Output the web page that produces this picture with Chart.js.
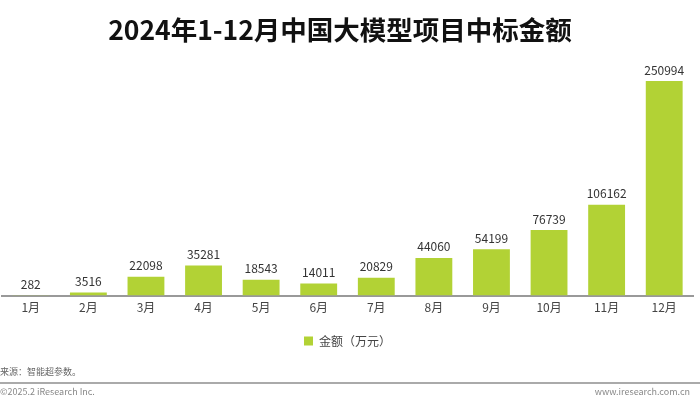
<!DOCTYPE html>
<html>
<head>
<meta charset="utf-8">
<script src="https://cdn.jsdelivr.net/npm/chart.js@4"></script>
<style>
  body { margin: 0; background: #fff; font-family: "Noto Sans CJK SC", sans-serif; }
  #wrap { position: relative; width: 700px; height: 397px; overflow: hidden; }
  #title { position: absolute; top: 9px; left: -10px; width: 700px; text-align: center;
    font-size: 26.5px; font-weight: bold; color: #111; }
  #chart-box { position: absolute; top: 0; left: 0; width: 700px; height: 397px; }
  .small { position: absolute; font-size: 9px; color: #666; }
  #rule { position: absolute; left: 0; top: 382px; width: 700px; height: 0; border-top: 2px solid #aaa; }
</style>
</head>
<body>
<div id="wrap">
  <div id="chart-box"><canvas id="myChart"></canvas></div>
  <div id="title">2024年1-12月中国大模型项目中标金额</div>
  <div class="small" style="left:0; top:365px;">来源：智能超参数。</div>
  <div id="rule"></div>
  <div class="small" style="left:0; top:385px; color:#888;">©2025.2 iResearch Inc.</div>
  <div class="small" style="right:10px; top:385px; color:#888;">www.iresearch.com.cn</div>
</div>
<script>
const months = ['1月', '2月', '3月', '4月', '5月', '6月', '7月', '8月', '9月', '10月', '11月', '12月'];
const amounts = [282, 3516, 22098, 35281, 18543, 14011, 20829, 44060, 54199, 76739, 106162, 250994];
const seriesName = '金额（万元）';

// draws the value above each bar
const valueLabels = {
  id: 'valueLabels',
  afterDatasetsDraw(chart) {
    const ctx = chart.ctx;
    const meta = chart.getDatasetMeta(0);
    ctx.save();
    ctx.font = '12px "Noto Sans CJK SC", sans-serif';
    ctx.fillStyle = '#333';
    ctx.textAlign = 'center';
    ctx.textBaseline = 'bottom';
    meta.data.forEach((bar, i) => {
      ctx.fillText(String(amounts[i]), bar.x, bar.y - 5);
    });
    ctx.restore();
  }
};

const ctx = document.getElementById('myChart').getContext('2d');
new Chart(ctx, {
  type: 'bar',
  data: {
    labels: months,
    datasets: [{
      label: seriesName,
      data: amounts,
      backgroundColor: '#b2d235',
      barPercentage: 0.64,
      categoryPercentage: 1
    }]
  },
  options: {
    responsive: true,
    maintainAspectRatio: false,
    animation: false,
    layout: { padding: { top: 60, left: 2, right: 7, bottom: 40 } },
    scales: {
      x: {
        grid: { display: false, drawTicks: false },
        border: { color: '#999', width: 2 },
        ticks: { color: '#444', font: { size: 12, family: '"Noto Sans CJK SC"' }, padding: 5 }
      },
      y: {
        display: false,
        min: 0,
        max: 275500
      }
    },
    plugins: {
      legend: {
        position: 'bottom',
        labels: {
          boxWidth: 9, boxHeight: 9, color: '#444',
          font: { size: 12, family: '"Noto Sans CJK SC"' }, padding: 15
        }
      },
      tooltip: { enabled: false }
    }
  },
  plugins: [valueLabels]
});
</script>
</body>
</html>
